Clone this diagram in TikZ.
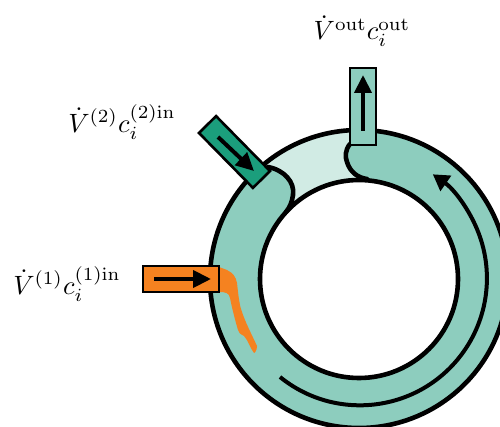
\documentclass[tikz,border=0pt]{standalone}
\usetikzlibrary{arrows.meta,calc}
\definecolor{tealmid}{HTML}{8DCDBE}
\definecolor{teallight}{HTML}{D1EBE4}
\definecolor{tealdark}{HTML}{1B9E7C}
\definecolor{orangeport}{HTML}{F58220}
\tikzset{
  ring/.style={line width=4.6pt,draw=black},
  seam/.style={line width=4.6pt,draw=black,line cap=round},
  portbox/.style={draw=black,line width=2.6pt,minimum height=24pt,inner sep=0pt,outer sep=0pt},
  flow/.style={line width=4pt,draw=black,-{Triangle[length=18pt,width=17pt]}},
  label/.style={scale=2.65,inner sep=0pt}
}
\begin{document}
\begin{tikzpicture}[x=1pt,y=-1pt]
\clip (0,0) rectangle (500,427);
\useasboundingbox (0,0) rectangle (500,427);
\coordinate (c) at (359,279);
% annulus
\fill[tealmid,even odd rule] (c) circle[radius=149pt] (c) circle[radius=99pt];
% light sector
\fill[teallight] ($(c)+(130:149pt)$) arc[start angle=130,end angle=93.5,radius=149pt]
  -- (350,144) .. controls (345,150) and (345,157) .. (347,162)
  .. controls (350,172) and (358,178) .. (367,179)
  arc[start angle=85.4,end angle=137.8,radius=99pt]
  .. controls (290,207) and (292,202) .. (293,195)
  .. controls (295,182) and (284,170) .. (268,167) -- cycle;
% seams
\draw[seam] (268,167) .. controls (284,170) and (295,182) .. (293,195)
  .. controls (292,202) and (290,207) .. (286,212);
\draw[seam] (350,144) .. controls (345,150) and (345,157) .. (347,162)
  .. controls (350,172) and (358,178) .. (367,179);
% orange stream
\fill[orangeport] (219,267) -- (227,270) .. controls (233,273) and (236,277) .. (237,283)
  .. controls (238,292) and (239,302) .. (241,309)
  .. controls (245,322) and (252,335) .. (257,346)
  .. controls (257,350) and (255,353) .. (254,353)
  .. controls (250,348) and (248,340) .. (244,336)
  .. controls (240,334) and (238,332) .. (238,330)
  .. controls (235,320) and (232,308) .. (230,298)
  .. controls (229,293) and (226,292) .. (219,292) -- cycle;
% rings
\draw[ring] (c) circle[radius=149pt];
\draw[ring] (c) circle[radius=99pt];
% circulation arrow
\draw[line width=4pt,-{Triangle[length=16pt,width=18pt]}]
  (280,377) arc[start angle=231,end angle=415,radius=127pt];
% ports
\node[portbox,fill=orangeport,minimum width=76pt,minimum height=26pt] (p1) at (181,279) {};
\node[portbox,fill=tealdark,minimum width=77pt,rotate=-45.5] (p2) at (234.5,152) {};
\node[portbox,fill=tealmid,minimum width=26pt,minimum height=77pt] (pout) at (363,106.5) {};
% port arrows
\coordinate (a1s) at (154,279); \coordinate (a1e) at (211,279);
\coordinate (a2s) at (218,137); \coordinate (a2e) at (254,171);
\coordinate (a3s) at (363,131); \coordinate (a3e) at (363,75);
\draw[flow] (a1s) -- (a1e);
\draw[flow] (a2s) -- (a2e);
\draw[flow] (a3s) -- (a3e);
% labels
\node[label] (l2) at (122,122) {$\dot{V}^{(2)}c_i^{(2)\mathrm{in}}$};
\node[label] (l1) at (67,284) {$\dot{V}^{(1)}c_i^{(1)\mathrm{in}}$};
\node[label] (lo) at (362,31) {$\dot{V}^{\mathrm{out}}c_i^{\mathrm{out}}$};
\end{tikzpicture}
\end{document}
